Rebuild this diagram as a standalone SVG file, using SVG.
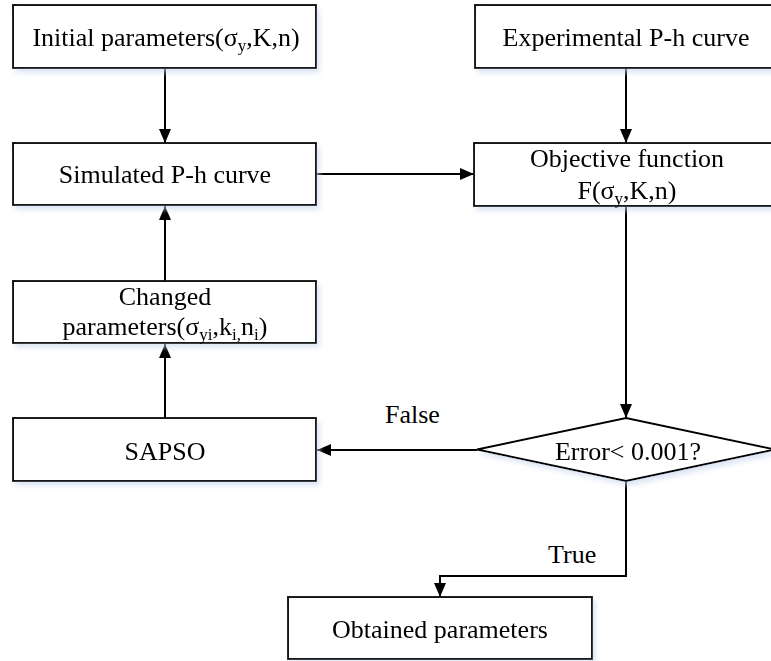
<svg xmlns="http://www.w3.org/2000/svg" width="771" height="661" viewBox="0 0 771 661">
  <style>
    .box { fill: #ffffff; stroke: #000000; stroke-width: 1.8; }
    .txt { font-family: "Liberation Serif", "Times New Roman", serif; font-size: 26px; fill: #000000; text-anchor: middle; }
    .lbl { font-family: "Liberation Serif", "Times New Roman", serif; font-size: 26px; fill: #000000; }
    .sub { font-size: 17px; }
    .conn { fill: none; stroke: #000000; stroke-width: 2; }
  </style>
  <defs>
    <marker id="arrow" viewBox="0 0 14 12" refX="14" refY="6" markerWidth="14" markerHeight="12" markerUnits="userSpaceOnUse" orient="auto">
      <path d="M0,0 L14,6 L0,12 Z" fill="#000000"/>
    </marker>
    <filter id="shade" x="-5%" y="-10%" width="115%" height="130%">
      <feGaussianBlur in="SourceAlpha" stdDeviation="2.5"/>
      <feOffset dx="3" dy="4" result="b"/>
      <feFlood flood-color="#c9d6ee" flood-opacity="0.6"/>
      <feComposite in2="b" operator="in"/>
      <feMerge><feMergeNode/><feMergeNode in="SourceGraphic"/></feMerge>
    </filter>
  </defs>

  <!-- connectors -->
  <g id="connectors">
    <line class="conn" x1="165" y1="68" x2="165" y2="143" marker-end="url(#arrow)"/>
    <line class="conn" x1="626" y1="68" x2="626" y2="143" marker-end="url(#arrow)"/>
    <line class="conn" x1="316" y1="174" x2="474" y2="174" marker-end="url(#arrow)"/>
    <line class="conn" x1="626" y1="206" x2="626" y2="418" marker-end="url(#arrow)"/>
    <line class="conn" x1="477" y1="450" x2="317" y2="450" marker-end="url(#arrow)"/>
    <line class="conn" x1="165" y1="418" x2="165" y2="344" marker-end="url(#arrow)"/>
    <line class="conn" x1="165" y1="281" x2="165" y2="206" marker-end="url(#arrow)"/>
    <polyline class="conn" points="626,481 626,576 440,576 440,597" marker-end="url(#arrow)"/>
    <text class="lbl" x="385" y="423">False</text>
    <text class="lbl" x="548" y="563">True</text>
  </g>

  <g id="initial" filter="url(#shade)">
    <rect class="box" x="13" y="5" width="303" height="63"/>
    <text class="txt" x="166" y="46">Initial parameters(σ<tspan class="sub" dy="5">y</tspan><tspan dy="-5">,K,n)</tspan></text>
  </g>

  <g id="experimental" filter="url(#shade)">
    <rect class="box" x="475" y="5" width="303" height="63"/>
    <text class="txt" x="626" y="46">Experimental P-h curve</text>
  </g>

  <g id="simulated" filter="url(#shade)">
    <rect class="box" x="13" y="143" width="303" height="62"/>
    <text class="txt" x="165" y="183">Simulated P-h curve</text>
  </g>

  <g id="objective" filter="url(#shade)">
    <rect class="box" x="474" y="143" width="304" height="63"/>
    <text class="txt" x="627" y="167">Objective function</text>
    <text class="txt" x="627" y="199">F(σ<tspan class="sub" dy="5">y</tspan><tspan dy="-5">,K,n)</tspan></text>
  </g>

  <g id="changed" filter="url(#shade)">
    <rect class="box" x="13" y="281" width="303" height="62"/>
    <text class="txt" x="165" y="305">Changed</text>
    <text class="txt" x="165" y="335">parameters(σ<tspan class="sub" dy="5">yi</tspan><tspan dy="-5">,k</tspan><tspan class="sub" dy="5">i,</tspan><tspan dy="-5">n</tspan><tspan class="sub" dy="5">i</tspan><tspan dy="-5">)</tspan></text>
  </g>

  <g id="sapso" filter="url(#shade)">
    <rect class="box" x="13" y="418" width="303" height="63"/>
    <text class="txt" x="165" y="460">SAPSO</text>
  </g>

  <g id="decision" filter="url(#shade)">
    <polygon class="box" points="626,418 775,449.5 626,481 477,449.5"/>
    <text class="txt" x="628" y="460">Error&lt; 0.001?</text>
  </g>

  <g id="obtained" filter="url(#shade)">
    <rect class="box" x="288" y="597" width="304" height="62"/>
    <text class="txt" x="440" y="638">Obtained parameters</text>
  </g>
</svg>
